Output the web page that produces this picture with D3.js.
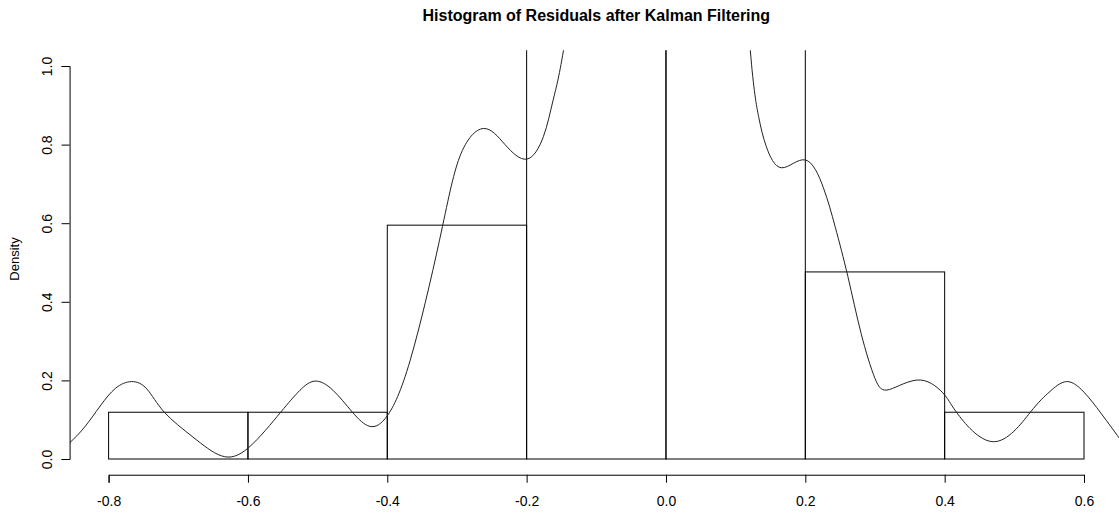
<!DOCTYPE html>
<html>
<head>
<meta charset="utf-8">
<script src="https://cdn.jsdelivr.net/npm/d3@7"></script>
<style>
  body { margin: 0; background: #fff; }
  svg { display: block; font-family: "Liberation Sans", Arial, sans-serif; }
</style>
</head>
<body>
<div id="chart"></div>
<script>
// histogram breaks and densities (bars 4 and 5 run off the top of the plot)
var breaks = [-0.8, -0.6, -0.4, -0.2, 0.0, 0.2, 0.4, 0.6];
var densities = [0.119, 0.119, 0.595, 1.786, 1.786, 0.476, 0.119];

// kernel density estimate
var kdeX = [-0.856, -0.835, -0.812, -0.790, -0.767, -0.745, -0.720, -0.679, -0.638, -0.599,
  -0.553, -0.528, -0.505, -0.478, -0.450, -0.425, -0.400, -0.367, -0.325, -0.296,
  -0.262, -0.231, -0.200, -0.176, -0.162, -0.147, -0.120, -0.080, 0.000, 0.060,
  0.100, 0.121, 0.133, 0.144, 0.166, 0.200, 0.226, 0.243, 0.261, 0.280,
  0.300, 0.321, 0.365, 0.400, 0.417, 0.470, 0.523, 0.550, 0.575, 0.600, 0.625, 0.656];
var kdeY = [0.041, 0.080, 0.135, 0.180, 0.197, 0.178, 0.119, 0.056, 0.008, 0.029,
  0.119, 0.170, 0.198, 0.175, 0.119, 0.083, 0.110, 0.252, 0.557, 0.769,
  0.841, 0.800, 0.763, 0.820, 0.913, 1.041, 1.400, 1.900, 2.200, 2.000,
  1.500, 1.041, 0.871, 0.795, 0.741, 0.761, 0.690, 0.590, 0.465, 0.320,
  0.205, 0.177, 0.201, 0.163, 0.119, 0.044, 0.119, 0.170, 0.197, 0.170, 0.115, 0.040];

var xTicks = [-0.8, -0.6, -0.4, -0.2, 0.0, 0.2, 0.4, 0.6];
var yTicks = [0.0, 0.2, 0.4, 0.6, 0.8, 1.0];

var width = 1119, height = 513;

var x = d3.scaleLinear().domain([-0.8, 0.6]).range([108.6, 1084]);
var y = d3.scaleLinear().domain([0, 1]).range([459, 66]);

// R pads the usr region by 4%
var usrX = [-0.856, 0.656], usrY = [-0.04, 1.04];

var svg = d3.select("#chart").append("svg")
  .attr("width", width)
  .attr("height", height);

svg.append("clipPath").attr("id", "plotclip")
  .append("rect")
  .attr("x", x(usrX[0]))
  .attr("y", y(usrY[1]))
  .attr("width", x(usrX[1]) - x(usrX[0]))
  .attr("height", y(usrY[0]) - y(usrY[1]));

var plot = svg.append("g").attr("clip-path", "url(#plotclip)");

var bins = densities.map(function(d, i) {
  return {x0: breaks[i], x1: breaks[i + 1], density: d};
});

plot.selectAll("rect.bar")
  .data(bins)
  .enter()
  .append("rect")
  .attr("class", "bar")
  .attr("x", d => x(d.x0))
  .attr("y", d => y(d.density))
  .attr("width", d => x(d.x1) - x(d.x0))
  .attr("height", d => y(0) - y(d.density))
  .attr("fill", "none")
  .attr("stroke", "#000")
  .attr("stroke-width", 1);

var kde = kdeX.map((v, i) => [v, kdeY[i]]);
var line = d3.line()
  .x(d => x(d[0]))
  .y(d => y(d[1]))
  .curve(d3.curveNatural);

plot.append("path")
  .datum(kde)
  .attr("d", line)
  .attr("fill", "none")
  .attr("stroke", "#222")
  .attr("stroke-width", 1);

// x axis
var xAxis = d3.axisBottom(x)
  .tickValues(xTicks)
  .tickFormat(d => d.toFixed(1))
  .tickSizeOuter(0)
  .tickSize(8)
  .tickPadding(13);

var gx = svg.append("g")
  .attr("transform", "translate(0," + y(usrY[0]) + ")")
  .call(xAxis);
gx.selectAll("text").style("font-size", "14px").attr("fill", "#000");
gx.select(".domain").attr("stroke", "#000");

// y axis, labels parallel to the axis
var yAxis = d3.axisLeft(y)
  .tickValues(yTicks)
  .tickFormat(d => d.toFixed(1))
  .tickSizeOuter(0)
  .tickSize(8);

var gy = svg.append("g")
  .attr("transform", "translate(" + x(usrX[0]) + ",0)")
  .call(yAxis);
gy.selectAll(".tick text")
  .style("font-size", "14px")
  .attr("fill", "#000")
  .attr("x", null)
  .attr("dy", null)
  .attr("text-anchor", "middle")
  .attr("transform", "translate(-18,0) rotate(-90)");

svg.append("text")
  .attr("x", (x(usrX[0]) + x(usrX[1])) / 2)
  .attr("y", 21)
  .attr("text-anchor", "middle")
  .style("font-size", "16px")
  .style("font-weight", "bold")
  .text("Histogram of Residuals after Kalman Filtering");

svg.append("text")
  .attr("transform", "translate(19,259) rotate(-90)")
  .attr("text-anchor", "middle")
  .style("font-size", "13px")
  .text("Density");
</script>
</body>
</html>
